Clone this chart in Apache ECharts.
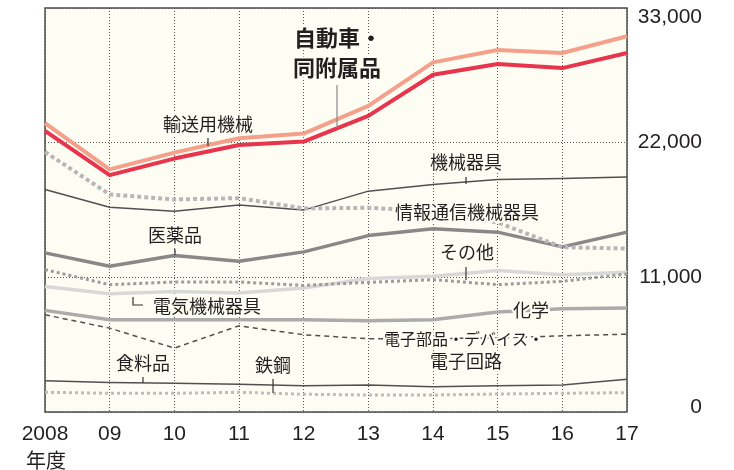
<!DOCTYPE html>
<html>
<head>
<meta charset="utf-8">
<script src="https://cdn.jsdelivr.net/npm/echarts@6/dist/echarts.min.js"></script>
<style>
  html, body { margin: 0; padding: 0; background: #fff; }
  #chart { width: 734px; height: 470px; }
</style>
</head>
<body>
<div id="chart"></div>
<script>
// 年度
const years = ['2008', '09', '10', '11', '12', '13', '14', '15', '16', '17']
const yTicks = [0, 11000, 22000, 33000]

// 業種別の値
const transport = [23590, 19820, 21190, 22360, 22740, 25000, 28560, 29570, 29320, 30690]
const auto = [22970, 19350, 20700, 21810, 22090, 24190, 27550, 28420, 28090, 29320]
const infoComm = [21240, 17770, 17360, 17470, 16630, 16680, 16400, 15480, 13460, 13350]
const machinery = [18180, 16730, 16400, 16900, 16490, 18040, 18590, 19000, 19080, 19190]
const pharma = [13000, 11900, 12780, 12310, 13080, 14410, 14960, 14690, 13490, 14690]
const others = [11630, 10400, 10620, 10620, 10340, 10590, 10810, 10400, 10670, 11280]
const electrical = [10260, 9660, 9850, 9720, 10130, 10900, 11080, 11550, 11220, 11410]
const chemical = [8300, 7530, 7530, 7530, 7530, 7450, 7530, 8160, 8440, 8490]
const electronic = [7940, 6850, 5220, 7040, 6310, 5980, 6000, 6050, 6220, 6360]
const food = [2560, 2400, 2350, 2270, 2150, 2210, 2070, 2150, 2210, 2680]
const steel = [1610, 1530, 1530, 1610, 1450, 1390, 1390, 1470, 1530, 1580]

const bg = '#fefdf3'
const jp = '"Noto Sans CJK JP"'
const num = '"Liberation Sans", Arial, sans-serif'

function line(name, data, color, width, type) {
  return {
    name,
    type: 'line',
    data,
    symbol: 'none',
    silent: true,
    lineStyle: { color, width, type: type || 'solid', cap: 'butt', join: 'round' },
  }
}

// ラベル（背景色で縁取り）
function label(text, x, y, size, bold) {
  return {
    type: 'text',
    x,
    y,
    z: 100,
    style: {
      text,
      font: (bold ? 'bold ' : '') + size + 'px ' + jp,
      fill: '#231f20',
      stroke: bg,
      lineWidth: 4,
      align: 'center',
      verticalAlign: 'middle',
    },
  }
}

function tick(points, color) {
  return {
    type: 'polyline',
    z: 99,
    shape: { points },
    style: { stroke: color || '#333', lineWidth: 1.2, fill: null },
  }
}

const chart = echarts.init(document.getElementById('chart'))
chart.setOption({
  backgroundColor: '#fff',
  animation: false,
  grid: {
    left: 45,
    right: 107,
    top: 8,
    bottom: 58,
    show: true,
    backgroundColor: bg,
    borderColor: '#4a4a4a',
    borderWidth: 1.5,
    z: 0,
  },
  xAxis: {
    type: 'category',
    data: years,
    boundaryGap: false,
    axisLine: { show: false },
    axisTick: { show: false },
    axisLabel: { fontSize: 21, color: '#231f20', fontFamily: num, margin: 12 },
    splitLine: { show: true, lineStyle: { color: '#555', width: 1, type: [1, 2] } },
  },
  yAxis: {
    type: 'value',
    position: 'right',
    min: yTicks[0],
    max: yTicks[yTicks.length - 1],
    interval: 11000,
    axisLine: { show: false },
    axisTick: { show: false },
    splitLine: { show: true, lineStyle: { color: '#555', width: 1, type: [1, 2] } },
    axisLabel: {
      align: 'right',
      margin: 75,
      formatter: (v) => {
        const s = String(v).replace(/\B(?=(\d{3})+(?!\d))/g, ',')
        if (v === 0) return '{lo|' + s + '}'
        if (v === 33000) return '{hi|' + s + '}'
        return s
      },
      fontSize: 21,
      fontFamily: num,
      color: '#231f20',
      rich: {
        lo: { fontSize: 21, fontFamily: num, color: '#231f20', padding: [0, 0, 10, 0] },
        hi: { fontSize: 21, fontFamily: num, color: '#231f20', padding: [18, 0, 0, 0] },
      },
    },
  },
  series: [
    line('鉄鋼', steel, '#bdbdbd', 3, [3, 3]),
    line('食料品', food, '#505050', 1.5),
    line('電子部品・デバイス・電子回路', electronic, '#505050', 1.5, [5, 4]),
    line('化学', chemical, '#ababab', 3.5),
    line('電気機械器具', electrical, '#d8d8d8', 3.5),
    line('その他', others, '#9c9c9c', 3, [3, 3]),
    line('医薬品', pharma, '#888888', 3.5),
    line('機械器具', machinery, '#505050', 1.5),
    line('情報通信機械器具', infoComm, '#b7b7b7', 4, [4, 3]),
    line('輸送用機械', transport, '#f4a08a', 4),
    line('自動車・同附属品', auto, '#e8344c', 4),
  ],
  graphic: [
    label('自動車・', 338, 38, 22, true),
    label('同附属品', 337, 68, 22, true),
    tick([[337, 85], [337, 128]], '#888'),
    label('輸送用機械', 208, 124, 18),
    tick([[208, 138], [208, 146]]),
    label('医薬品', 175, 235, 18),
    tick([[175, 249], [175, 255]]),
    label('電気機械器具', 207, 306, 18),
    tick([[133, 297], [133, 305], [143, 305]]),
    label('機械器具', 466, 162, 18),
    tick([[466, 177], [466, 184]]),
    label('情報通信機械器具', 467, 212, 18),
    label('その他', 467, 252, 18),
    tick([[466, 267], [466, 280]]),
    label('化学', 531, 310, 18),
    label('電子部品・デバイス・', 464, 339, 16),
    label('電子回路', 466, 361, 18),
    label('食料品', 143, 363, 18),
    tick([[143, 377], [143, 383]]),
    label('鉄鋼', 273, 365, 18),
    tick([[273, 379], [273, 393]]),
    {
      type: 'text',
      x: 46,
      y: 460,
      style: {
        text: '年度',
        font: '20px ' + jp,
        fill: '#231f20',
        align: 'center',
        verticalAlign: 'middle',
      },
    },
  ],
})
</script>
</body>
</html>
